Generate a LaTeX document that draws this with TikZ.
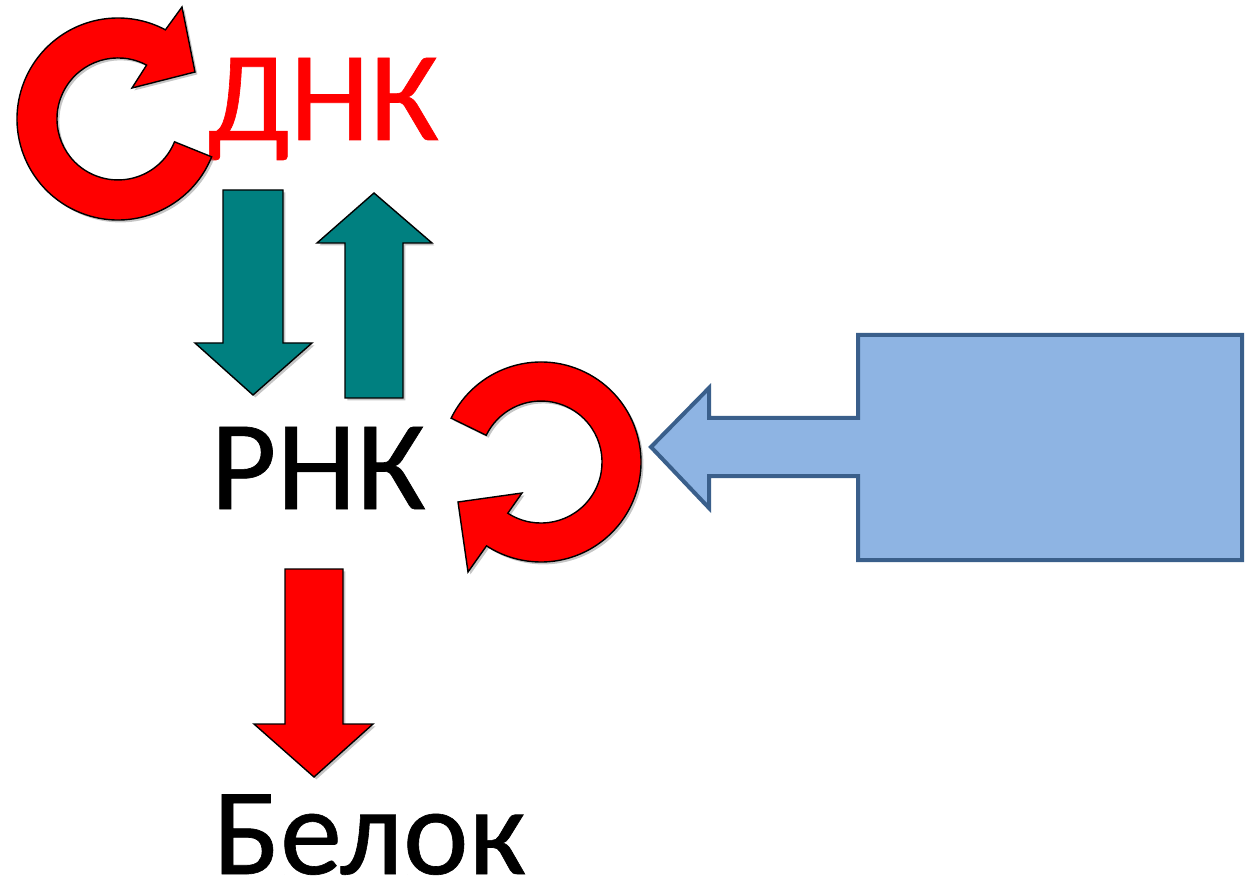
\documentclass[tikz,border=0pt]{standalone}
\usepackage{fontspec}
\setmainfont{Carlito}
\newfontfamily\lblfont{Carlito}[FakeBold=0.5]
\usetikzlibrary{shadows}
\definecolor{tealfill}{HTML}{008080}
\definecolor{boxfill}{HTML}{8EB4E3}
\definecolor{boxline}{HTML}{3A5F8B}
\tikzset{
  shade/.style={drop shadow={shadow xshift=1.2pt, shadow yshift=-1.2pt, opacity=0.45, fill=gray}},
  redshape/.style={fill=red, draw=black, line width=0.7pt, line join=miter, shade},
  tealshape/.style={fill=tealfill, draw=black, line width=0.7pt, line join=miter, shade},
  callout/.style={fill=boxfill, draw=boxline, line width=2pt, line join=miter},
  label/.style={inner sep=0pt, anchor=base west, font=\lblfont\fontsize{64pt}{70pt}\selectfont}
}
\begin{document}
\begin{tikzpicture}[x=0.5pt, y=0.5pt]
\useasboundingbox (0,0) rectangle (1245,884);

% words
\node[label, text=red] (dna) at (207,744) {ДНК};
\node[label] (rna) at (210,375) {РНК};
\node[label, font=\lblfont\fontsize{62pt}{68pt}\selectfont] (prot) at (213,10) {Белок};

% self-copy loop of DNA
\path[redshape] (118,765) ++(-22:101)
  arc[start angle=-22, end angle=-298, radius=101]
  -- (182,877) -- (195,812) -- (132,796) -- (146.6,818.9)
  arc[start angle=62, end angle=338, radius=61] -- cycle;

% transcription and reverse transcription
\path[tealshape] (223,694) -- (283,694) -- (283,541) -- (312,541) -- (253,489)
  -- (195,541) -- (223,541) -- cycle;
\path[tealshape] (345,486) -- (403,486) -- (403,641) -- (432,641) -- (374,691)
  -- (317,641) -- (345,641) -- cycle;

% self-copy loop of RNA
\path[redshape] (541,422) ++(154:100)
  arc[start angle=154, end angle=-123, radius=100]
  -- (468,312) -- (458,382) -- (522,391) -- (507.8,370.8)
  arc[start angle=-123, end angle=154, radius=61] -- cycle;

% translation
\path[redshape] (285,315) -- (343,315) -- (343,160) -- (373,160) -- (314,107)
  -- (254,160) -- (285,160) -- cycle;

% callout box with arrow
\path[callout] (858,549) -- (1242,549) -- (1242,324) -- (858,324) -- (858,408)
  -- (709,408) -- (709,376) -- (651,437) -- (709,496) -- (709,466)
  -- (858,466) -- cycle;
\end{tikzpicture}
\end{document}
